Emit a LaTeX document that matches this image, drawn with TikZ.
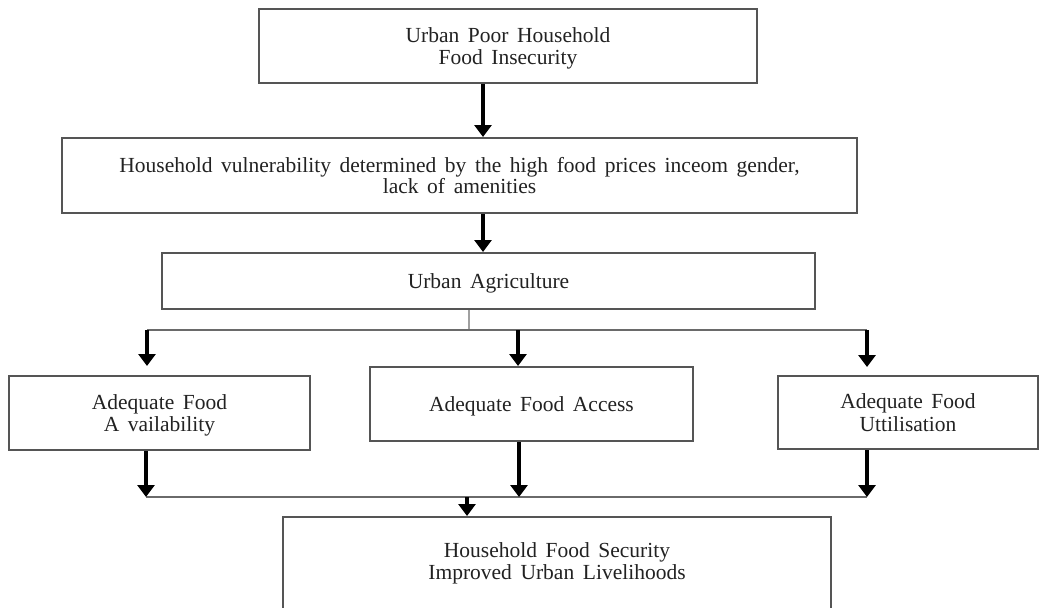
\documentclass[tikz,border=0pt]{standalone}
\usepackage{fontspec}
\setmainfont{Liberation Serif}
\usetikzlibrary{arrows.meta}
\definecolor{boxgray}{HTML}{555555}
\definecolor{linegray}{HTML}{6A6A6A}
\definecolor{stubgray}{HTML}{A0A0A0}
\definecolor{txt}{HTML}{222222}
\newcommand{\boxtext}[1]{\raisebox{-3pt}[\height][\depth]{\begin{tabular}{@{}c@{}}#1\end{tabular}}}
\newcommand{\figfont}[1]{\fontsize{21.5}{#1}\selectfont\spaceskip=0.4em plus 0.1em minus 0.05em\relax}
\begin{document}
\begin{tikzpicture}[x=1pt,y=-1pt,
  box/.style={draw=boxgray,line width=2pt,fill=white,inner sep=0pt,text=txt,font=\figfont{22.5}},
  plaintext/.style={inner sep=0pt,text=txt,font=\figfont{22.5}},
  arr/.style={draw=black,line width=4pt,-{Triangle[width=17pt,length=12pt]}},
  link/.style={draw=linegray,line width=2pt}]
\useasboundingbox (0,0) rectangle (1040,607);
\fill[white] (0,0) rectangle (1040,607);

% boxes
\node[box,minimum width=498pt,minimum height=74pt] (top) at (508,46) {\boxtext{Urban Poor Household\\Food Insecurity}};
\node[box,minimum width=795pt,minimum height=75pt,font=\figfont{20}] (vul) at (459.5,175.5) {\boxtext{Household vulnerability determined by the high food prices inceom gender,\\lack of amenities}};
\node[box,minimum width=653pt,minimum height=56pt] (ua) at (488.5,281) {\boxtext{Urban Agriculture}};
\node[box,minimum width=301pt,minimum height=74pt] (avail) at (159.5,413) {\boxtext{Adequate Food\\A vailability}};
\node[box,minimum width=323pt,minimum height=74pt] (access) at (531.5,404) {\boxtext{Adequate Food Access}};
\node[box,minimum width=260pt,minimum height=73pt] (util) at (908,412.5) {\boxtext{Adequate Food\\Uttilisation}};
\node[box,minimum width=548pt,minimum height=120pt,anchor=north] (sec) at (557,516) {};
\node[plaintext] (sectext) at (557,561) {\boxtext{Household Food Security\\Improved Urban Livelihoods}};

% connectors
\coordinate (c1) at (483,0);
\draw[arr] (top.south -| c1) -- (vul.north -| c1);
\draw[arr] (vul.south -| c1) -- (ua.north -| c1);

\coordinate (s) at (469,330);
\draw[draw=stubgray,line width=2pt] (ua.south -| s) -- (s);
\coordinate (hl) at (147,330);
\coordinate (hm) at (518,330);
\coordinate (hr) at (867,330);
\draw[link] (hl) -- (hr);
\draw[arr,shorten >=9pt] (hl) -- (avail.north -| hl);
\draw[arr] (hm) -- (access.north -| hm);
\draw[arr,shorten >=8pt] (hr) -- (util.north -| hr);

\coordinate (bl) at (146,497);
\coordinate (bm) at (519,497);
\coordinate (br) at (867,497);
\draw[link] (bl) -- (br);
\draw[arr] (avail.south -| bl) -- (bl);
\draw[arr] (access.south -| bm) -- (bm);
\draw[arr] (util.south -| br) -- (br);
\coordinate (bs) at (467,497);
\draw[arr] (bs) -- (sec.north -| bs);
\end{tikzpicture}
\end{document}
